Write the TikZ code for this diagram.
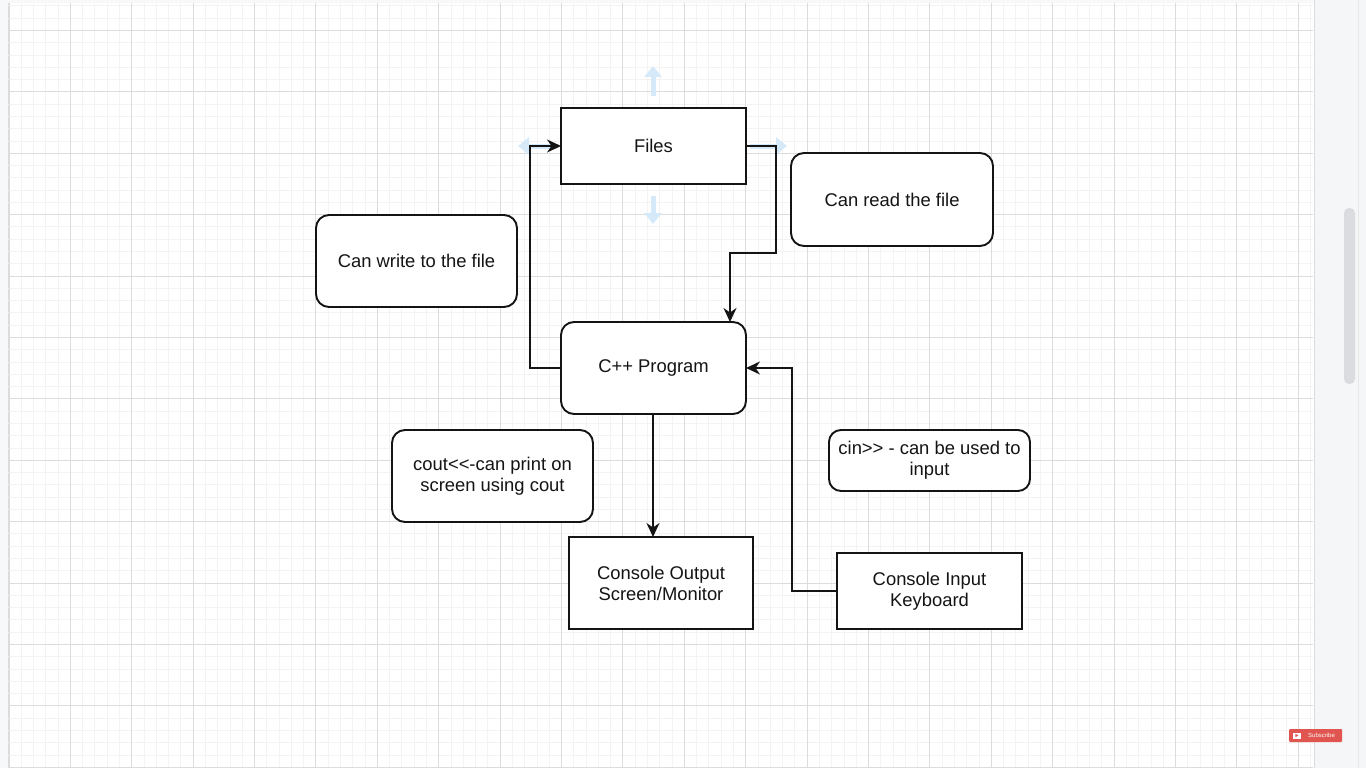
\documentclass[tikz,border=0pt]{standalone}
\usepackage{fontspec}
\setmainfont{Liberation Sans}
\usetikzlibrary{arrows.meta,calc}
\definecolor{txt}{HTML}{141414}
\definecolor{minorgrid}{HTML}{F3F3F3}
\definecolor{majorgrid}{HTML}{DCDCDC}
\definecolor{hoverblue}{HTML}{D6E9F8}
\definecolor{panel}{HTML}{F5F6F7}
\definecolor{thumb}{HTML}{DADCDF}
\definecolor{ytred}{HTML}{E0554F}
\tikzset{
  minorline/.style={draw=minorgrid, line width=1pt},
  majorline/.style={draw=majorgrid, line width=1pt},
  plainbox/.style={draw=txt, fill=white, line width=1.9pt, inner sep=0pt, outer sep=0pt,
    text=txt, align=center, font=\fontsize{18.4}{21}\selectfont},
  roundbox/.style={plainbox, rounded corners=13pt},
  conn/.style={draw=txt, line width=1.8pt, -{Stealth[length=14pt,width=13pt,inset=4.5pt]}},
  hover/.style={draw=hoverblue, line width=5pt, -{Triangle[length=11pt,width=17pt]}},
}
\begin{document}
\begin{tikzpicture}[x=1pt,y=-1pt]
\useasboundingbox (0,0) rectangle (1366,768);
% canvas
\fill[white] (0,0) rectangle (1366,768);
\fill[panel!80!white] (0,0) rectangle (8,768);
\fill[panel!80!white] (0,0) rectangle (1366,3);
\draw[majorgrid, line width=0.8pt] (8,3) -- (8,768);
% grid
\foreach \i in {0,...,106} {\pgfmathsetmacro\xx{round(8.5+\i*12.28)+0.5}\draw[minorline] (\xx,3) -- (\xx,768);}
\foreach \j in {0,...,62} {\pgfmathsetmacro\yy{round(5.44+\j*12.28)+0.5}\draw[minorline] (8,\yy) -- (1313,\yy);}
\foreach \k in {0,...,21} {\pgfmathsetmacro\xx{round(8.5+\k*61.4)+0.5}\draw[majorline] (\xx,3) -- (\xx,768);}
\foreach \k in {0,...,12} {\pgfmathsetmacro\yy{round(30+\k*61.4)+0.5}\draw[majorline] (8,\yy) -- (1313,\yy);}
% right panel
\fill[panel] (1314,0) rectangle (1366,768);
\draw[majorgrid, line width=1pt] (1314.5,0) -- (1314.5,768);
\draw[majorgrid!70!white, line width=1pt] (1358.5,0) -- (1358.5,768);
\fill[thumb, rounded corners=5pt] (1344,208) rectangle (1355,384);
% subscribe badge
\fill[ytred, rounded corners=1pt] (1289,729) rectangle (1342,742);
\fill[white] (1292.5,732.5) rectangle (1300.5,738.5);
\fill[ytred] (1295.3,733.8) -- (1295.3,737.2) -- (1298.3,735.5) -- cycle;
\node[text=white, font=\fontsize{6}{6}\selectfont, inner sep=0pt] (subs) at (1321.5,735.6) {Subscribe};
% hover arrows around Files
\draw[hover] (653,96) -- (653,66);
\draw[hover] (653,196) -- (653,224);
\draw[hover] (557,146) -- (518,146);
\draw[hover] (750,146) -- (787,146);
% boxes
\node[plainbox, minimum width=185pt, minimum height=76pt] (files) at (653.5,146) {Files};
\node[roundbox, minimum width=185pt, minimum height=92pt] (cpp) at (653.5,368) {C++ Program};
\node[roundbox, minimum width=201pt, minimum height=92pt] (write) at (416.5,261) {Can write to the file};
\node[roundbox, minimum width=202pt, minimum height=93pt] (read) at (892,199.5) {Can read the file};
\node[roundbox, minimum width=201pt, minimum height=92pt] (cout) at (492.5,476) {cout<{}<-can print on\\screen using cout};
\node[plainbox, minimum width=184pt, minimum height=92pt] (out) at (661,583) {Console Output\\Screen/Monitor};
\node[roundbox, rounded corners=12pt, minimum width=201pt, minimum height=61pt] (cin) at (929.5,460.5) {cin>{}> - can be used to\\input};
\node[plainbox, minimum width=185pt, minimum height=76pt] (in) at (929.5,591) {Console Input\\Keyboard};
% connectors
\coordinate (cppin) at ([xshift=-16pt]cpp.north east);
\coordinate (cppout) at ([xshift=-0.5pt]cpp.south);
\draw[conn] (cpp.west) -- ++(-31,0) |- (files.west);
\draw[conn] (files.east) -- ++(30,0) -- ++(0,107) -| (cppin);
\draw[conn] (cppout) -- (cppout |- out.north);
\draw[conn] (in.west) -- ++(-45,0) |- (cpp.east);
\end{tikzpicture}
\end{document}
